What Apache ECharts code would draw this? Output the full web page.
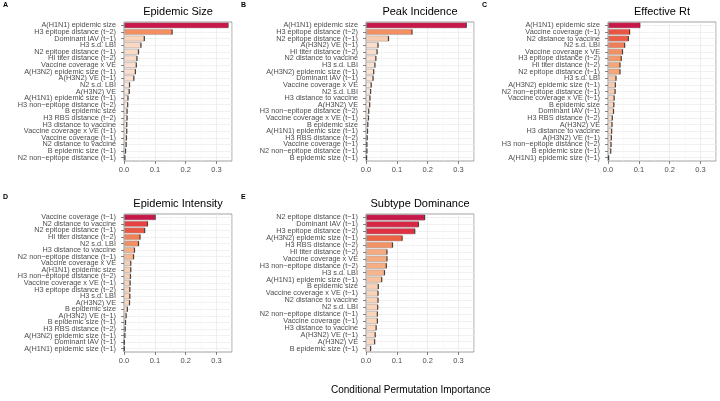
<!DOCTYPE html>
<html>
<head>
<meta charset="utf-8">
<script src="https://cdn.jsdelivr.net/npm/echarts@6/dist/echarts.min.js"></script>
<style>html,body{margin:0;padding:0;background:#fff}#c{width:720px;height:401px}</style>
</head>
<body>
<div id="c"></div>
<script>
// ---- Data ----
const titles = ["Epidemic Size", "Peak Incidence", "Effective Rt", "Epidemic Intensity", "Subtype Dominance"];
const letters = ["A", "B", "C", "D", "E"];
const xTicks = [0.0, 0.1, 0.2, 0.3];
const xAxisTitle = "Conditional Permutation Importance";

const catsA = ["A(H1N1) epidemic size","H3 epitope distance (t\u22122)","Dominant IAV (t\u22121)","H3 s.d. LBI","N2 epitope distance (t\u22121)","HI titer distance (t\u22122)","Vaccine coverage x VE","A(H3N2) epidemic size (t\u22121)","A(H3N2) VE (t\u22121)","N2 s.d. LBI","A(H3N2) VE","A(H1N1) epidemic size (t\u22121)","H3 non\u2212epitope distance (t\u22122)","B epidemic size","H3 RBS distance (t\u22122)","H3 distance to vaccine","Vaccine coverage x VE (t\u22121)","Vaccine coverage (t\u22121)","N2 distance to vaccine","B epidemic size (t\u22121)","N2 non\u2212epitope distance (t\u22121)"];
const valsA = [0.337,0.156,0.066,0.055,0.047,0.042,0.040,0.037,0.032,0.018,0.017,0.013,0.012,0.010,0.010,0.009,0.009,0.008,0.007,0.005,0.003];

const catsB = ["A(H1N1) epidemic size","H3 epitope distance (t\u22122)","N2 epitope distance (t\u22121)","A(H3N2) VE (t\u22121)","HI titer distance (t\u22122)","N2 distance to vaccine","H3 s.d. LBI","A(H3N2) epidemic size (t\u22121)","Dominant IAV (t\u22121)","Vaccine coverage x VE","N2 s.d. LBI","H3 distance to vaccine","A(H3N2) VE","H3 non\u2212epitope distance (t\u22122)","Vaccine coverage x VE (t\u22121)","B epidemic size","A(H1N1) epidemic size (t\u22121)","H3 RBS distance (t\u22122)","Vaccine coverage (t\u22121)","N2 non\u2212epitope distance (t\u22121)","B epidemic size (t\u22121)"];
const valsB = [0.325,0.149,0.073,0.039,0.036,0.032,0.029,0.025,0.023,0.017,0.015,0.013,0.012,0.009,0.008,0.006,0.005,0.004,0.003,0.003,0.002];

const catsC = ["A(H1N1) epidemic size","Vaccine coverage (t\u22121)","N2 distance to vaccine","N2 s.d. LBI","Vaccine coverage x VE","H3 epitope distance (t\u22122)","HI titer distance (t\u22122)","N2 epitope distance (t\u22121)","H3 s.d. LBI","A(H3N2) epidemic size (t\u22121)","N2 non\u2212epitope distance (t\u22121)","Vaccine coverage x VE (t\u22121)","B epidemic size","Dominant IAV (t\u22121)","H3 RBS distance (t\u22122)","A(H3N2) VE","H3 distance to vaccine","A(H3N2) VE (t\u22121)","H3 non\u2212epitope distance (t\u22122)","B epidemic size (t\u22121)","A(H1N1) epidemic size (t\u22121)"];
const valsC = [0.103,0.070,0.066,0.054,0.047,0.043,0.039,0.039,0.026,0.024,0.023,0.020,0.019,0.018,0.014,0.013,0.012,0.011,0.010,0.009,0.002];

const catsD = ["Vaccine coverage (t\u22121)","N2 distance to vaccine","N2 epitope distance (t\u22121)","HI titer distance (t\u22122)","N2 s.d. LBI","H3 distance to vaccine","N2 non\u2212epitope distance (t\u22121)","Vaccine coverage x VE","A(H1N1) epidemic size","H3 non\u2212epitope distance (t\u22122)","Vaccine coverage x VE (t\u22121)","H3 epitope distance (t\u22122)","H3 s.d. LBI","A(H3N2) VE","B epidemic size","A(H3N2) VE (t\u22121)","B epidemic size (t\u22121)","H3 RBS distance (t\u22122)","A(H3N2) epidemic size (t\u22121)","Dominant IAV (t\u22121)","A(H1N1) epidemic size (t\u22121)"];
const valsD = [0.101,0.076,0.067,0.052,0.047,0.034,0.031,0.022,0.022,0.021,0.020,0.019,0.019,0.018,0.011,0.007,0.005,0.004,0.003,0.001,0.001];

const catsE = ["N2 epitope distance (t\u22121)","Dominant IAV (t\u22121)","H3 epitope distance (t\u22122)","A(H3N2) epidemic size (t\u22121)","H3 RBS distance (t\u22122)","HI titer distance (t\u22122)","Vaccine coverage x VE","H3 non\u2212epitope distance (t\u22122)","H3 s.d. LBI","A(H1N1) epidemic size (t\u22121)","B epidemic size","Vaccine coverage x VE (t\u22121)","N2 distance to vaccine","N2 s.d. LBI","N2 non\u2212epitope distance (t\u22121)","Vaccine coverage (t\u22121)","H3 distance to vaccine","A(H3N2) VE (t\u22121)","A(H3N2) VE","B epidemic size (t\u22121)"];
const valsE = [0.190,0.170,0.158,0.117,0.086,0.068,0.068,0.066,0.060,0.051,0.040,0.039,0.039,0.038,0.037,0.037,0.033,0.030,0.028,0.015];

// ---- Layout / style ----
const cats = [catsA, catsB, catsC, catsD, catsE];
const vals = [valsA, valsB, valsC, valsD, valsE];
const FONT = "'Liberation Sans', Arial, sans-serif";
const grids = [
  {left: 124, top: 22, width: 108, height: 139},
  {left: 366, top: 22, width: 108, height: 139},
  {left: 608, top: 22, width: 108, height: 139},
  {left: 124, top: 214, width: 108, height: 138},
  {left: 366, top: 214, width: 108, height: 138}
];
const ramp = ['#FDEDE3', '#FAD3BA', '#F4A06F', '#EE6846', '#E2363F', '#C8184A'];

const chart = echarts.init(document.getElementById('c'), null, {renderer: 'canvas'});

const option = {
  backgroundColor: '#fff',
  animation: false,
  textStyle: {fontFamily: FONT},
  title: [],
  grid: [],
  xAxis: [],
  yAxis: [],
  visualMap: [],
  series: [],
  graphic: []
};

grids.forEach((g, i) => {
  option.grid.push(Object.assign({show: true, borderColor: '#8a8a8a', borderWidth: 0.8, backgroundColor: '#fff', containLabel: false}, g));
  option.title.push({
    text: titles[i], left: g.left + g.width / 2, top: g.top - 16, textAlign: 'center', padding: 0,
    textStyle: {fontFamily: FONT, fontSize: 11, fontWeight: 'normal', color: '#000'}
  });
  option.xAxis.push({
    type: 'value', gridIndex: i, min: 0, max: 0.35, interval: 0.1,
    axisLine: {show: false},
    axisTick: {show: true, length: 3, lineStyle: {color: '#333', width: 0.6}},
    axisLabel: {show: true, margin: 5, fontSize: 7.5, color: '#4d4d4d', fontFamily: FONT, showMaxLabel: false,
      formatter: v => (xTicks.some(t => Math.abs(t - v) < 1e-9) ? v.toFixed(1) : '')},
    splitLine: {show: true, lineStyle: {color: '#E6E6E6', width: 0.7}},
    minorTick: {show: false, splitNumber: 2},
    minorSplitLine: {show: true, lineStyle: {color: '#F3F3F3', width: 0.5}}
  });
  option.yAxis.push({
    type: 'category', gridIndex: i, data: cats[i], inverse: true,
    axisLine: {show: false},
    axisTick: {show: true, length: 3, alignWithLabel: true, lineStyle: {color: '#333', width: 0.6}},
    axisLabel: {show: true, margin: 8, fontSize: 7.3, color: '#4d4d4d', fontFamily: FONT, interval: 0},
    splitLine: {show: true, alignWithLabel: true, lineStyle: {color: '#EBEBEB', width: 0.7}}
  });
  const mx = Math.max(...vals[i]);
  option.visualMap.push({type: 'continuous', show: false, seriesIndex: i, dimension: 0, min: 0, max: mx, inRange: {color: ramp}});
  option.series.push({
    type: 'bar', xAxisIndex: i, yAxisIndex: i, barCategoryGap: '12%',
    data: vals[i].map((v, k) => [v, cats[i][k]]),
    itemStyle: {borderColor: '#9a9a9a', borderWidth: 0.5},
    z: 2
  });
  option.graphic.push({
    type: 'text', left: (i % 3 === 0 ? 3 : (i % 3 === 1 ? 241 : 482)), top: (i < 3 ? 2 : 194),
    style: {text: letters[i], font: 'bold 7px ' + FONT, fill: '#000'}
  });
});

grids.forEach((g, i) => {
  option.series.push({
    type: 'scatter', xAxisIndex: i, yAxisIndex: i, symbol: 'rect', symbolSize: [1.2, 5],
    data: vals[i].map((v, k) => [v, cats[i][k]]),
    itemStyle: {color: '#222'}, z: 3, silent: true
  });
});

option.graphic.push({
  type: 'text', left: 331, top: 385,
  style: {text: xAxisTitle, font: '10px ' + FONT, fill: '#000'}
});

chart.setOption(option);
</script>
</body>
</html>
